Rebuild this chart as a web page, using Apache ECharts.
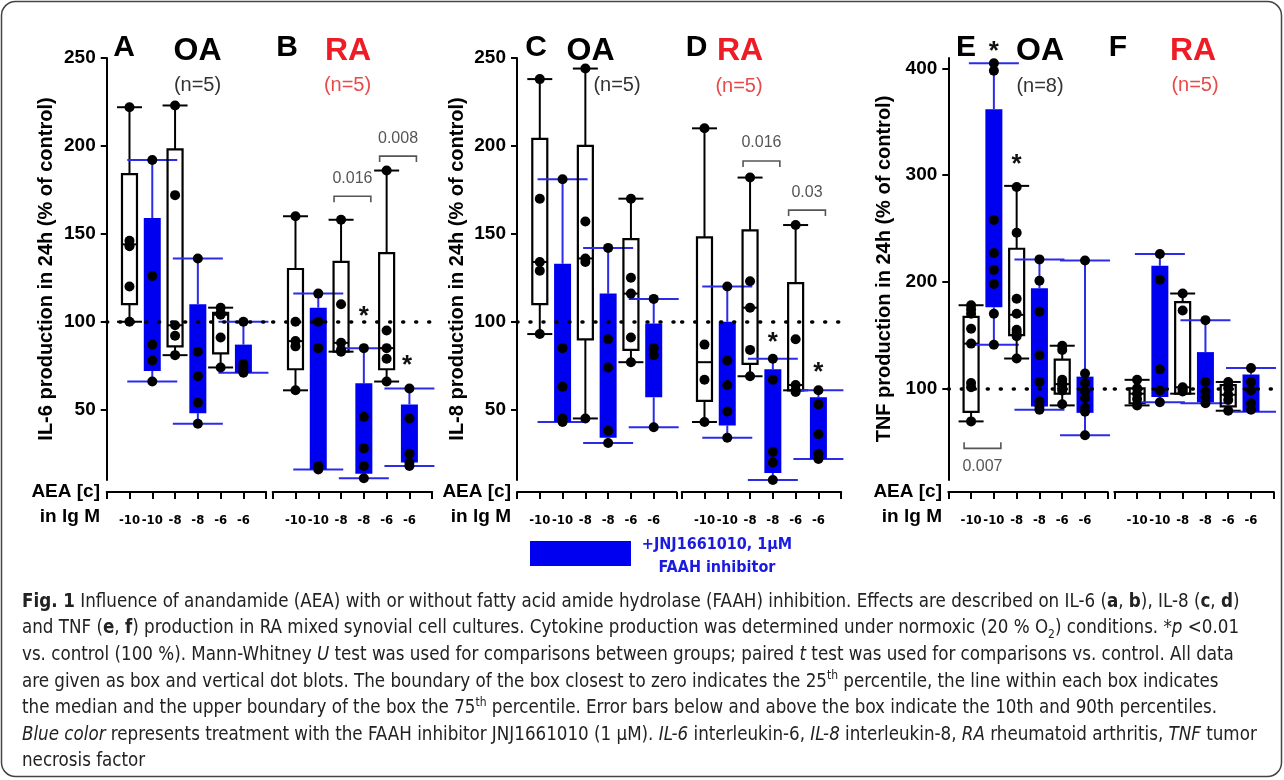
<!DOCTYPE html>
<html>
<head>
<meta charset="utf-8">
<style>
  html, body { margin: 0; padding: 0; background: #fff; }
  #fig { width: 1284px; height: 780px; }
</style>
<script src="https://cdn.jsdelivr.net/npm/echarts@6/dist/echarts.min.js"></script>
</head>
<body>
<div id="fig"></div>
<script>
// tick labels of every x axis (positions 0 and 7 are the axis ends)
const xTickLabels = ['', '-10', '-10', '-8', '-8', '-6', '-6', ''];
// which columns got the FAAH inhibitor (blue)
const inhibitorFlags = [false, true, false, true, false, true];

// boxes: [lower whisker, q1, median, q3, upper whisker]
const il6OABoxes = [[100, 110, 144, 184, 222], [66, 72, 87, 159, 192], [81, 86, 98, 198, 223],
                    [42, 48, 69, 110, 136], [74, 82, 104, 105, 108], [71, 71, 74, 87, 100]];
const il6OADots = [[222, 146, 143, 120, 100], [192, 126, 87, 78, 66], [223, 172, 98, 92, 81],
                   [136, 83, 69, 54, 42], [108, 105, 104, 91, 74], [100, 76, 74, 72, 71]];
const il6RABoxes = [[61, 73, 89, 130, 160], [16, 16, 85, 108, 116], [83, 83, 88, 134, 158],
                    [11, 13.5, 28, 65, 85], [66, 73, 85, 139, 186], [18, 20, 25, 53, 62]];
const il6RADots = [[160, 100, 89, 86, 61], [116, 100, 85, 18, 16], [158, 110, 88, 84, 83],
                   [85, 46, 28, 18, 11], [186, 95, 85, 79, 66], [62, 45, 25, 20, 18]];

const il8OABoxes = [[93, 110, 134, 204, 238], [43, 43, 63, 133, 181], [45, 90, 136, 200, 244],
                    [31, 34, 74, 116, 142], [77, 84, 116, 147, 170], [40, 57, 83, 99, 113]];
const il8OADots = [[238, 170, 134, 129, 93], [181, 85, 63, 45, 43], [244, 157, 136, 134, 45],
                   [142, 90, 74, 38, 31], [170, 125, 116, 91, 77], [113, 85, 81, 40]];
const il8RABoxes = [[43, 55, 77, 148, 210], [34, 41, 64, 100, 120], [69, 76, 108, 152, 182],
                    [10, 14, 26, 73, 79], [61, 61, 64, 122, 155], [22, 22, 36, 57, 61]];
const il8RADots = [[210, 87, 67, 43], [120, 78, 64, 49, 34], [182, 123, 108, 84, 69],
                   [79, 67, 26, 20, 10], [155, 90, 64, 61, 60], [61, 53, 36, 25, 22]];

const tnfOABoxes = [[69, 78, 142, 167, 178], [141, 176, 218, 362, 405], [128, 150, 169, 231, 290],
                    [80, 83, 118, 194, 221], [84, 95, 104, 127, 140], [56, 77, 94, 111, 220]];
const tnfOADots = [[178, 174, 170, 156, 142, 105, 101, 69], [405, 398, 258, 227, 211, 198, 170, 141],
                   [289, 246, 184, 170, 155, 152, 149, 128], [221, 201, 172, 131, 106, 88, 83, 80],
                   [140, 136, 108, 105, 103, 100, 98, 85], [220, 114, 105, 97, 91, 82, 78, 56]];
const tnfRABoxes = [[84, 86, 95, 100, 108], [87, 92, 118, 215, 226], [95, 95, 101, 181, 189],
                    [86, 87, 97, 134, 164], [79, 83, 94, 103, 106], [78, 78, 98, 113, 119]];
const tnfRADots = [[108, 100, 95, 90, 84], [226, 202, 118, 98, 87], [189, 173, 101, 99, 97],
                   [164, 106, 97, 92, 86], [106, 100, 94, 89, 79], [119, 106, 98, 86, 80]];

// significance marks: [column, value]
const il6RAStars = [[4, 107], [5.9, 79]];
const il8RAStars = [[4, 92], [6, 75]];
const tnfOAStars = [[2, 422], [3, 316]];
// brackets: [from column, to column, value, label, direction]
const il6RABrackets = [[3, 4, 171.4, '0.016', 1], [5, 6, 194.2, '0.008', 1]];
const il8RABrackets = [[3, 4, 191.4, '0.016', 1], [5, 6, 163.5, '0.03', 1]];
const tnfOABrackets = [[1, 2, 43.7, '0.007', -1]];

// y axes
const ilTicks = [50, 100, 150, 200, 250];
const tnfTicks = [100, 200, 300, 400];
const yNames = ['IL-6 production in 24h (% of control)', 'IL-8 production in 24h (% of control)',
                'TNF production in 24h (% of control)'];

const captionLines = [
  '{b|Fig. 1} Influence of anandamide (AEA) with or without fatty acid amide hydrolase (FAAH) inhibition. Effects are described on IL-6 ({b|a}, {b|b}), IL-8 ({b|c}, {b|d})',
  'and TNF ({b|e}, {b|f}) production in RA mixed synovial cell cultures. Cytokine production was determined under normoxic (20 % O{sub|2}) conditions. *{i|p} <0.01',
  'vs. control (100 %). Mann-Whitney {i|U} test was used for comparisons between groups; paired {i|t} test was used for comparisons vs. control. All data',
  'are given as box and vertical dot blots. The boundary of the box closest to zero indicates the 25{sup|th} percentile, the line within each box indicates',
  'the median and the upper boundary of the box the 75{sup|th} percentile. Error bars below and above the box indicate the 10th and 90th percentiles.',
  '{i|Blue color} represents treatment with the FAAH inhibitor JNJ1661010 (1 \u03bcM). {i|IL-6} interleukin-6, {i|IL-8} interleukin-8, {i|RA} rheumatoid arthritis, {i|TNF} tumor',
  'necrosis factor'
];

const FONT = '"Liberation Sans", Arial, sans-serif';
const NARROW = '"DejaVu Sans Condensed", "Liberation Sans Narrow", sans-serif';
const BLUE = '#0000f0';
const BLUE_LINE = '#2b2be8';
const RED = '#ee1c24';

var chart = echarts.init(document.getElementById('fig'), null, {renderer: 'canvas'});

const panels = [
  {left: 106.7, boxes: il6OABoxes, dots: il6OADots, stars: [], brackets: [], y: 0},
  {left: 272.7, boxes: il6RABoxes, dots: il6RADots, stars: il6RAStars, brackets: il6RABrackets, y: 0},
  {left: 517, boxes: il8OABoxes, dots: il8OADots, stars: [], brackets: [], y: 1},
  {left: 681.7, boxes: il8RABoxes, dots: il8RADots, stars: il8RAStars, brackets: il8RABrackets, y: 1},
  {left: 948.3, boxes: tnfOABoxes, dots: tnfOADots, stars: tnfOAStars, brackets: tnfOABrackets, y: 2},
  {left: 1114.3, boxes: tnfRABoxes, dots: tnfRADots, stars: [], brackets: [], y: 2}
];

function renderBox(params, api) {
  const pos = api.value(0);
  const low = api.coord([pos, api.value(1)]);
  const q1 = api.coord([pos, api.value(2)]);
  const med = api.coord([pos, api.value(3)]);
  const q3 = api.coord([pos, api.value(4)]);
  const high = api.coord([pos, api.value(5)]);
  const treated = api.value(6) === 1;
  const cx = low[0];
  const bw = treated ? 17 : 15;
  const cw = treated ? 50 : 25;
  const ls = {stroke: treated ? BLUE_LINE : '#000', lineWidth: 2};
  const children = [
    {type: 'line', shape: {x1: cx, y1: low[1], x2: cx, y2: q1[1]}, style: ls},
    {type: 'line', shape: {x1: cx, y1: q3[1], x2: cx, y2: high[1]}, style: ls},
    {type: 'line', shape: {x1: cx - cw / 2, y1: low[1], x2: cx + cw / 2, y2: low[1]}, style: ls},
    {type: 'line', shape: {x1: cx - cw / 2, y1: high[1], x2: cx + cw / 2, y2: high[1]}, style: ls},
    {type: 'rect', shape: {x: cx - bw / 2, y: q3[1], width: bw, height: q1[1] - q3[1]},
     style: treated ? {fill: BLUE} : {fill: 'none', stroke: '#000', lineWidth: 2.2}}
  ];
  if (!treated) {
    children.push({type: 'line', shape: {x1: cx - bw / 2, y1: med[1], x2: cx + bw / 2, y2: med[1]},
                   style: {stroke: '#000', lineWidth: 2}});
  }
  return {type: 'group', children: children};
}

function renderStar(params, api) {
  const p = api.coord([api.value(0), api.value(1)]);
  return {
    type: 'text',
    style: {text: '*', x: p[0], y: p[1] + 7, align: 'center', verticalAlign: 'middle',
            textAlign: 'center', textVerticalAlign: 'middle',
            fontSize: 26, fontWeight: 'bold', fontFamily: FONT, fill: '#111'}
  };
}

function bracketRenderer(list) {
  return function (params, api) {
    const b = list[params.dataIndex];
    const a = api.coord([b[0], b[2]]);
    const c = api.coord([b[1], b[2]]);
    const dir = b[4];
    const y = a[1], x1 = a[0] - 7, x2 = c[0] + 7;
    return {
      type: 'group',
      children: [
        {type: 'polyline', shape: {points: [[x1, y + 6 * dir], [x1, y], [x2, y], [x2, y + 6 * dir]]},
         style: {stroke: '#555', lineWidth: 1.6, fill: 'none'}},
        {type: 'text', style: {text: b[3], x: (x1 + x2) / 2, y: y - 18 * dir, align: 'center',
          verticalAlign: 'middle', textAlign: 'center', textVerticalAlign: 'middle',
          fontSize: 16, fontFamily: FONT, fill: '#555'}}
      ]
    };
  };
}

const grids = [], xAxes = [], yAxes = [], series = [];
panels.forEach(function (pn, p) {
  grids.push({left: pn.left, top: 58, width: 159.5, height: 422, containLabel: false, outerBoundsMode: 'none'});
  xAxes.push({
    type: 'value', gridIndex: p, min: 0, max: 7, interval: 1, position: 'bottom', offset: 12,
    splitLine: {show: false},
    axisLine: {show: true, onZero: false, lineStyle: {color: '#000', width: 2}},
    axisTick: {show: true, length: 7, lineStyle: {color: '#000', width: 2}},
    axisLabel: {
      margin: 22, color: '#000', fontSize: 13, fontWeight: 'bold', fontFamily: NARROW,
      showMinLabel: true, showMaxLabel: true,
      formatter: function (v) { return xTickLabels[Math.round(v)] || ''; }
    }
  });
  const isTnf = pn.y === 2;
  const ticks = isTnf ? tnfTicks : ilTicks;
  yAxes.push({
    type: 'value', gridIndex: p, min: isTnf ? 14 : 10, max: isTnf ? 410 : 250,
    show: p % 2 === 0,
    name: yNames[pn.y], nameLocation: 'middle', nameGap: isTnf ? 54 : 50,
    nameTextStyle: {fontSize: 20, fontWeight: 'bold', fontFamily: FONT, color: '#000'},
    splitLine: {show: false},
    axisLine: {show: true, lineStyle: {color: '#000', width: 2}},
    axisTick: {show: true, length: 6, customValues: ticks, lineStyle: {color: '#000', width: 2}},
    axisLabel: {customValues: ticks, margin: 11, color: '#000', fontSize: 19, fontWeight: 'bold', fontFamily: FONT}
  });

  series.push({
    type: 'custom', xAxisIndex: p, yAxisIndex: p, clip: false, z: 2, silent: true,
    renderItem: renderBox,
    data: pn.boxes.map(function (b, i) { return [i + 1].concat(b, [inhibitorFlags[i] ? 1 : 0]); })
  });

  const pts = [];
  pn.dots.forEach(function (col, i) { col.forEach(function (v) { pts.push([i + 1, v]); }); });
  series.push({
    type: 'scatter', xAxisIndex: p, yAxisIndex: p, z: 5, silent: true,
    symbolSize: 10, itemStyle: {color: '#000', opacity: 1},
    data: pts,
    markLine: {
      silent: true, symbol: ['none', 'none'], label: {show: false},
      lineStyle: {color: '#000', width: 3.5, type: [1, 12], cap: 'round'},
      data: [{yAxis: 100}]
    }
  });

  if (pn.stars.length) {
    series.push({type: 'custom', xAxisIndex: p, yAxisIndex: p, clip: false, z: 6, silent: true,
                 renderItem: renderStar, data: pn.stars});
  }
  if (pn.brackets.length) {
    series.push({type: 'custom', xAxisIndex: p, yAxisIndex: p, clip: false, z: 6, silent: true,
                 renderItem: bracketRenderer(pn.brackets),
                 data: pn.brackets.map(function (b) { return [b[0], b[2]]; })});
  }
});

function txt(text, x, y, size, color, weight, align, family) {
  return {
    type: 'text', x: 0, y: 0, silent: true,
    style: {text: text, x: x, y: y, fontSize: size, fontWeight: weight || 'bold', fontFamily: family || FONT,
            fill: color || '#000', align: align || 'center', textAlign: align || 'center',
            verticalAlign: 'middle', textVerticalAlign: 'middle'}
  };
}

const graphics = [
  {type: 'rect', silent: true, shape: {x: 1.5, y: 1.5, width: 1280, height: 775, r: 14},
   style: {fill: 'none', stroke: '#444', lineWidth: 1.5}},
  txt('A', 124, 48, 30), txt('OA', 197.5, 51, 32), txt('(n=5)', 197.5, 85, 20, '#333', 'normal'),
  txt('B', 287, 48, 30), txt('RA', 348, 51, 32, RED), txt('(n=5)', 347.5, 85, 20, '#e84a4a', 'normal'),
  txt('C', 536, 48, 30), txt('OA', 590.5, 51, 32), txt('(n=5)', 617, 85, 20, '#333', 'normal'),
  txt('D', 696.5, 48, 30), txt('RA', 740, 51, 32, RED), txt('(n=5)', 739, 86, 20, '#e84a4a', 'normal'),
  txt('E', 966, 48, 30), txt('OA', 1040, 51, 32), txt('(n=8)', 1040, 86.5, 20, '#333', 'normal'),
  txt('F', 1118, 48, 30), txt('RA', 1193, 51, 32, RED), txt('(n=5)', 1195, 85, 20, '#e84a4a', 'normal'),
  txt('AEA [c]', 100, 492, 19, '#000', 'bold', 'right'), txt('in lg M', 100, 517, 19, '#000', 'bold', 'right'),
  txt('AEA [c]', 511, 492, 19, '#000', 'bold', 'right'), txt('in lg M', 511, 517, 19, '#000', 'bold', 'right'),
  txt('AEA [c]', 942, 492, 19, '#000', 'bold', 'right'), txt('in lg M', 942, 517, 19, '#000', 'bold', 'right'),
  {type: 'rect', silent: true, shape: {x: 530, y: 541, width: 101, height: 25}, style: {fill: BLUE}},
  txt('+JNJ1661010, 1\u00b5M', 717, 545, 16, '#1a1ae0', 'bold', 'center', NARROW),
  txt('FAAH inhibitor', 717, 568, 16, '#1a1ae0', 'bold', 'center', NARROW)
];

const capSize = 18.6;
function capStyle(extra) {
  return Object.assign({fontSize: capSize, fontFamily: NARROW, fontWeight: 'normal', fontStyle: 'normal',
                        fill: '#222', lineHeight: 24}, extra || {});
}
captionLines.forEach(function (line, i) {
  graphics.push({
    type: 'text', silent: true,
    style: Object.assign(capStyle(), {
      text: line, x: 22, y: 602 + i * 26.6, align: 'left', textAlign: 'left',
      verticalAlign: 'middle', textVerticalAlign: 'middle',
      rich: {
        b: capStyle({fontWeight: 'bold'}),
        i: capStyle({fontStyle: 'italic'}),
        sup: capStyle({fontSize: 12, verticalAlign: 'top', lineHeight: 24}),
        sub: capStyle({fontSize: 12, verticalAlign: 'bottom', lineHeight: 20})
      }
    })
  });
});

const option = {
  backgroundColor: '#fff',
  animation: false,
  grid: grids,
  xAxis: xAxes,
  yAxis: yAxes,
  series: series,
  graphic: graphics
};

chart.setOption(option);

window.onresize = function () {
  chart.resize();
};
</script>
</body>
</html>
